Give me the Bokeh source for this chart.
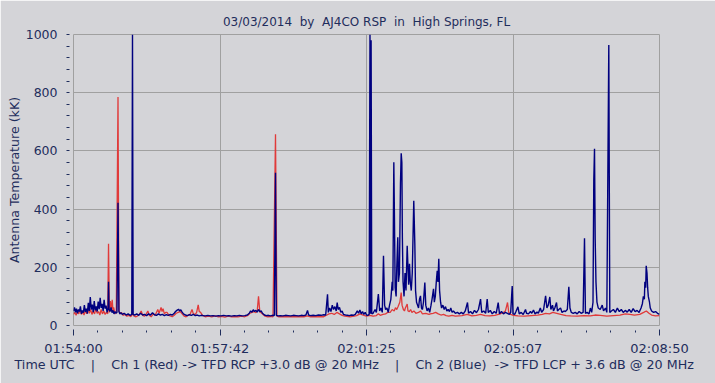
from bokeh.plotting import figure
from bokeh.models import Range1d, FixedTicker, Title
from bokeh.embed import file_html
from bokeh.resources import INLINE

# ---------------- data (seconds after 01:54:00, antenna temperature kK) ----------------
blue_t = [0, 1.5, 3, 4.5, 6, 7.5, 9, 10.5, 12, 13.5, 15, 16.5, 18, 19.5, 21, 22.5, 24, 25.5, 27, 28.5,
          30, 31.5, 33, 34.5, 36, 37.5, 39, 40.5, 42, 43.5, 45, 46.5, 48, 49.5, 51, 52.5, 53.2, 54, 55.5, 57,
          58.5, 60, 61.5, 63, 64.5, 66, 67.6, 69, 70.5, 72, 74, 77, 80, 83, 86, 88.5, 89.6, 90.6, 93, 96,
          99, 102, 105, 108, 111, 114, 117, 120, 123, 126, 129, 132, 135, 138, 141, 144, 147, 150, 153, 155,
          157, 159.5, 161, 163, 165, 167, 170, 173, 176, 179, 182, 185, 188, 191, 194, 197, 200, 204, 208, 212,
          216, 220, 224, 228, 232, 236, 240, 244, 248, 252, 256, 260, 264, 267, 269, 271, 273, 275, 277, 279,
          281, 283, 285, 287, 290, 293, 296, 299, 302, 305, 306.8, 308, 311, 314, 318, 322, 326, 330, 334, 338,
          342, 346, 350, 353, 355.4, 357, 360, 364, 368, 372, 376, 380, 383, 385.8, 387, 389, 391, 393, 395, 397,
          399, 400.5, 402, 404, 406, 408, 410, 413, 416, 419, 422, 425, 428, 431, 433, 435, 437, 439, 441, 443,
          445, 447, 449, 450.3, 451, 452, 453, 455, 458, 460, 463, 465, 467, 469, 470.8, 472.5, 474, 476, 478, 480,
          482, 484, 485, 486.5, 487.5, 488.5, 490, 491, 492.5, 493.5, 495, 496.6, 497.7, 498.7, 499.5, 500.5, 502, 503.5,
          505, 506.8, 508, 509, 510.3, 511.5, 513, 514.5, 516.8, 518.4, 519.5, 521, 522.5, 524, 525.5, 527, 528.5, 530,
          531.5, 533.6, 535, 537, 539, 541, 543, 544.5, 546.8, 548, 549.5, 551, 552.4, 553.5, 554.8, 556, 557.5, 559,
          561, 563, 565, 567, 569, 571, 573, 575, 577, 580, 583, 586, 589, 592, 595, 598.4, 600, 603, 606, 609,
          612, 615, 618.2, 620, 623, 626, 628.3, 630, 633, 636, 639, 642, 645, 647, 650, 653, 656, 659, 662, 664,
          666.3, 667.5, 670, 672, 675, 677, 680, 683, 686.5, 688, 691, 694, 696, 698.6, 701, 704, 706, 709, 711, 714,
          717, 719, 721, 723.4, 725, 727.5, 729, 731, 733.6, 735, 737, 739.7, 742, 745, 747, 750, 752.3, 754, 756, 759,
          762, 765, 768, 771, 774, 776.1, 777.5, 780, 783, 785, 787, 789, 790.2, 791.3, 792.3, 793.5, 795, 797, 800, 803,
          805, 808, 810, 813, 814.5, 817, 820, 823, 826, 829, 832, 835, 838, 841, 844, 847, 850, 853, 856, 859,
          862, 864, 865.5, 867, 867.8, 869, 869.8, 871, 872, 873, 874.8, 876, 878, 881, 884, 887, 890]
blue_v = [50, 62, 45, 58, 42, 55, 48, 66, 40, 52, 44, 70, 47, 58, 41, 78, 50, 98, 55, 72,
          46, 84, 52, 66, 48, 82, 56, 95, 60, 74, 50, 88, 58, 68, 45, 60, 150, 55, 48, 62,
          44, 52, 40, 48, 42, 45, 422, 48, 40, 44, 38, 42, 36, 40, 35, 38, 1000, 38, 36, 40,
          35, 42, 36, 38, 34, 40, 36, 44, 37, 35, 40, 36, 38, 34, 37, 35, 38, 36, 42, 48,
          52, 56, 50, 54, 46, 40, 36, 34, 37, 35, 38, 34, 36, 33, 35, 34, 33, 35, 33, 34,
          32, 34, 33, 35, 33, 34, 32, 34, 33, 35, 33, 34, 36, 42, 50, 46, 54, 48, 52, 46,
          55, 48, 50, 42, 36, 34, 35, 33, 35, 34, 525, 35, 33, 34, 33, 35, 34, 33, 35, 34,
          33, 35, 34, 36, 52, 36, 34, 35, 34, 36, 35, 37, 36, 107, 45, 60, 48, 70, 55, 65,
          50, 79, 55, 62, 45, 50, 38, 36, 35, 34, 36, 35, 38, 50, 42, 53, 40, 48, 38, 45,
          36, 35, 38, 1000, 40, 980, 40, 42, 55, 45, 108, 50, 60, 45, 240, 70, 55, 60, 45, 70,
          90, 150, 120, 561, 360, 130, 100, 200, 303, 150, 180, 488, 592, 560, 300, 150, 100, 180,
          120, 274, 200, 140, 212, 150, 120, 180, 429, 281, 120, 80, 70, 60, 90, 102, 60, 55,
          80, 148, 70, 50, 60, 45, 70, 90, 126, 80, 100, 150, 188, 150, 229, 120, 80, 60,
          70, 55, 65, 50, 55, 48, 60, 45, 50, 42, 45, 40, 45, 40, 50, 79, 42, 48, 40, 52,
          44, 55, 91, 45, 50, 42, 91, 45, 52, 40, 48, 42, 79, 40, 48, 40, 45, 42, 38, 45,
          136, 40, 38, 48, 64, 40, 45, 38, 55, 42, 40, 48, 42, 53, 40, 46, 42, 60, 45, 55,
          102, 60, 70, 98, 55, 70, 50, 60, 79, 50, 55, 60, 45, 50, 48, 55, 133, 60, 45, 42,
          45, 40, 48, 42, 45, 300, 42, 45, 40, 60, 45, 80, 498, 607, 300, 150, 80, 60, 55, 70,
          50, 60, 45, 964, 45, 50, 55, 45, 60, 48, 55, 45, 52, 46, 55, 45, 58, 48, 52, 45,
          60, 75, 100, 90, 150, 130, 205, 180, 130, 100, 80, 60, 50, 45, 48, 42, 38]

red_t = [0, 2, 4, 6, 8, 10, 12, 14, 16, 18, 20, 22, 24, 26, 28, 30, 32, 34, 36, 38,
         40, 42, 44, 46, 48, 50, 52, 53.2, 54.5, 56, 57.5, 58.8, 60, 61, 63, 65, 67.6, 69, 71, 73,
         75, 78, 81, 84, 87, 89.6, 92, 95, 98, 100, 102.8, 105, 108, 110, 112.9, 115, 118, 121, 124, 126,
         128, 130, 133, 134.5, 136, 138, 140, 142, 145, 148, 150, 153, 156, 159, 162, 165, 168, 171, 174, 177,
         180, 182, 185, 187, 189.4, 191, 193, 196, 200, 205, 210, 215, 220, 225, 230, 235, 240, 245, 250, 255,
         260, 265, 268, 271, 274, 277, 279, 281, 283, 285, 288, 291, 295, 300, 303, 306.8, 309, 312, 320, 330,
         340, 350, 355, 360, 370, 380, 385, 388, 392, 396, 400, 404, 408, 412, 420, 430, 435, 440, 445, 450,
         455, 460, 463, 466, 470, 474, 477, 481, 484, 487, 489, 491, 493, 495.6, 497.7, 499, 501, 502.7, 504, 506.8,
         508, 510, 512, 514, 517, 520, 524, 527, 530, 535, 540, 542, 546, 550, 554, 558, 562, 566, 570, 575,
         580, 590, 598, 605, 612, 618, 625, 632, 640, 648, 653, 656, 659.2, 661, 664, 668, 675, 685, 695, 705,
         712, 717, 723, 728, 734, 740, 748, 755, 765, 775, 785, 792, 800, 810, 820, 830, 838, 845, 852, 860,
         866, 870, 874, 878, 884, 890]
red_v = [38, 45, 35, 50, 40, 55, 38, 48, 36, 52, 40, 60, 42, 55, 38, 50, 40, 58, 42, 48,
         36, 55, 40, 50, 38, 45, 40, 281, 45, 84, 55, 88, 50, 62, 40, 45, 785, 50, 40, 45,
         35, 38, 32, 35, 30, 40, 32, 30, 34, 38, 50, 35, 32, 38, 50, 35, 30, 40, 35, 45,
         55, 42, 62, 48, 58, 40, 45, 45, 35, 32, 30, 35, 42, 45, 48, 40, 32, 30, 35, 38,
         55, 40, 38, 45, 71, 48, 45, 35, 30, 32, 30, 33, 30, 31, 29, 32, 30, 31, 30, 32,
         30, 35, 42, 45, 48, 44, 50, 100, 46, 44, 38, 32, 30, 31, 30, 657, 32, 30, 31, 30,
         31, 30, 33, 30, 31, 30, 36, 40, 42, 38, 45, 40, 35, 32, 30, 34, 40, 36, 32, 35,
         32, 34, 40, 35, 38, 40, 45, 45, 55, 50, 61, 55, 65, 80, 113, 70, 55, 50, 60, 74,
         50, 48, 55, 45, 50, 42, 45, 50, 40, 42, 38, 40, 42, 45, 40, 36, 38, 34, 32, 35,
         32, 34, 38, 33, 35, 38, 34, 33, 35, 40, 45, 50, 79, 45, 38, 35, 33, 32, 34, 36,
         38, 42, 40, 45, 42, 38, 34, 33, 32, 34, 33, 36, 35, 32, 34, 36, 40, 38, 36, 38,
         45, 50, 42, 36, 33, 34]

x_tick_pos = [0, 222.5, 445, 667.5, 890]
x_tick_labels = ["01:54:00", "01:57:42", "02:01:25", "02:05:07", "02:08:50"]
y_ticks = [0, 200, 400, 600, 800, 1000]

NB = "\u00a0"
title_text = "03/03/2014  by  AJ4CO RSP  in  High Springs, FL".replace(" ", NB)
footer_text = ("Time UTC    |    Ch 1 (Red) -> TFD RCP +3.0 dB @ 20 MHz    |    "
               "Ch 2 (Blue)  -> TFD LCP + 3.6 dB @ 20 MHz").replace(" ", NB)
y_label = "Antenna Temperature (kK)"

# ---------------- styling ----------------
BG = "#d4d4d8"
GRID = "#a0a0a0"
TXT = "#1f2d5c"
FONT = "DejaVu Sans"

p = figure(width=715, height=383, output_backend="svg", toolbar_location=None,
           x_range=Range1d(0, 890), y_range=Range1d(0, 1000),
           min_border_left=73, min_border_right=56, min_border_top=34, min_border_bottom=58)
p.background_fill_color = BG
p.border_fill_color = BG
p.outline_line_color = GRID
p.outline_line_width = 1

p.title.text = title_text
p.title.align = "center"
p.title.text_font = FONT
p.title.text_font_size = "12px"
p.title.text_font_style = "normal"
p.title.text_color = TXT
p.title.standoff = 12

p.line(red_t, red_v, color="#e03a3a", line_width=1.3)
p.line(blue_t, blue_v, color="#00007f", line_width=1.4)

# x axis
xa = p.xaxis[0]
minor_x = [i * 890 / 24 for i in range(25)]
xa.ticker = FixedTicker(ticks=x_tick_pos, minor_ticks=minor_x)
xa.major_label_overrides = {pos: lab for pos, lab in zip(x_tick_pos, x_tick_labels)}
xa.axis_line_color = None
xa.major_tick_line_color = TXT
xa.minor_tick_line_color = TXT
xa.major_tick_in = -4
xa.major_tick_out = 10
xa.minor_tick_in = -5
xa.minor_tick_out = 7
xa.major_label_standoff = 5
xa.major_label_text_font = FONT
xa.major_label_text_font_size = "13px"
xa.major_label_text_color = TXT

# y axis
ya = p.yaxis[0]
minor_y = list(range(0, 1001, 40))
ya.ticker = FixedTicker(ticks=y_ticks, minor_ticks=minor_y)
ya.axis_line_color = None
ya.major_tick_line_color = TXT
ya.minor_tick_line_color = TXT
ya.major_tick_in = -5
ya.major_tick_out = 6
ya.minor_tick_in = -4
ya.minor_tick_out = 7
ya.major_label_standoff = 9
ya.major_label_text_font = FONT
ya.major_label_text_font_size = "12.5px"
ya.major_label_text_color = TXT
ya.axis_label = y_label
ya.axis_label_standoff = 1
ya.axis_label_text_font = FONT
ya.axis_label_text_font_size = "12.6px"
ya.axis_label_text_font_style = "normal"
ya.axis_label_text_color = TXT

p.xgrid.ticker = FixedTicker(ticks=x_tick_pos)
p.ygrid.ticker = FixedTicker(ticks=y_ticks)
p.xgrid.grid_line_color = GRID
p.ygrid.grid_line_color = GRID

footer = Title(text=footer_text, align="left", offset=-59, standoff=-7, text_font=FONT,
               text_font_size="12.7px", text_font_style="normal", text_color=TXT)
p.add_layout(footer, "below")

open("out.html", "w").write(file_html(p, INLINE))
